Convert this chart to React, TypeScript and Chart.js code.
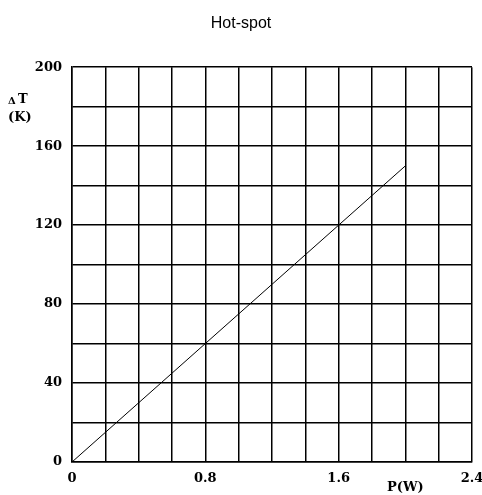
import React, { useEffect, useRef } from "react";
import { Chart, registerables } from "chart.js";

Chart.register(...registerables);

const powerW = [0, 2.0];
const deltaT = [0, 150];
const xTickLabels = ["0", "0.8", "1.6", "2.4"];
const yTickLabels = ["0", "40", "80", "120", "160", "200"];
const titleText = "Hot-spot";
const xAxisLabel = "P(W)";
const yAxisLabel1 = "\u0394T";
const yAxisLabel2 = "(K)";

const TICK_FONT = "DejaVu Serif";

function pick(labels: string[], value: number): string {
  const l = labels.find((s) => Math.abs(parseFloat(s) - value) < 1e-6);
  return l ?? "";
}

export default function App() {
  const ref = useRef<HTMLCanvasElement | null>(null);
  useEffect(() => {
    if (!ref.current) return;
    const labelPlugin = {
      id: "extraLabels",
      afterDraw(chart: any) {
        const ctx = chart.ctx;
        const xs = chart.scales.x;
        ctx.save();
        ctx.fillStyle = "#000";
        ctx.textBaseline = "middle";
        ctx.textAlign = "left";
        ctx.font = `bold 10px "${TICK_FONT}"`;
        ctx.fillText("\u0394", 8, 101);
        ctx.font = `bold 13px "${TICK_FONT}"`;
        ctx.fillText("T", 18, 100);
        ctx.fillText(yAxisLabel2, 8, 118);
        ctx.textAlign = "center";
        ctx.fillText(xAxisLabel, xs.getPixelForValue(2.0), 488);
        ctx.restore();
      },
    };
    const chart = new Chart(ref.current, {
      type: "line",
      data: {
        datasets: [
          {
            label: yAxisLabel1,
            data: powerW.map((x, i) => ({ x, y: deltaT[i] })),
            borderColor: "#000",
            borderWidth: 1,
            pointRadius: 0,
            tension: 0,
          },
        ],
      },
      options: {
        animation: false,
        responsive: false,
        layout: { padding: { left: 0, right: 0, top: 0, bottom: 0 } },
        plugins: {
          legend: { display: false },
          tooltip: { enabled: false },
          title: {
            display: true,
            text: titleText,
            color: "#000",
            font: { family: "Liberation Sans", size: 16, weight: "normal" },
            padding: { top: 14, bottom: 34 },
          },
        },
        scales: {
          x: {
            type: "linear",
            min: 0,
            max: 2.4,
            afterFit(scale: any) {
              scale.height = 33;
              scale.paddingLeft = 0;
              scale.paddingRight = 10;
            },
            ticks: {
              stepSize: 0.2,
              autoSkip: false,
              maxRotation: 0,
              padding: 9,
              color: "#000",
              font: { family: TICK_FONT, size: 13, weight: "bold" },
              callback: (v: any) => pick(xTickLabels, Number(v)),
            },
            grid: { color: "#000", lineWidth: 1.5, drawTicks: false },
            border: { color: "#000", width: 1.5 },
          },
          y: {
            type: "linear",
            min: 0,
            max: 200,
            afterFit(scale: any) {
              scale.width = 72;
            },
            ticks: {
              stepSize: 20,
              autoSkip: false,
              padding: 10,
              color: "#000",
              font: { family: TICK_FONT, size: 13, weight: "bold" },
              callback: (v: any) => pick(yTickLabels, Number(v)),
            },
            grid: { color: "#000", lineWidth: 1.5, drawTicks: false },
            border: { color: "#000", width: 1.5 },
          },
        },
      },
      plugins: [labelPlugin],
    } as any);
    return () => chart.destroy();
  }, []);
  return (
    <div style={{ position: "fixed", left: 0, top: 0, width: 482, height: 495, background: "#fff" }}>
      <canvas ref={ref} width={482} height={495} style={{ display: "block" }} />
    </div>
  );
}
